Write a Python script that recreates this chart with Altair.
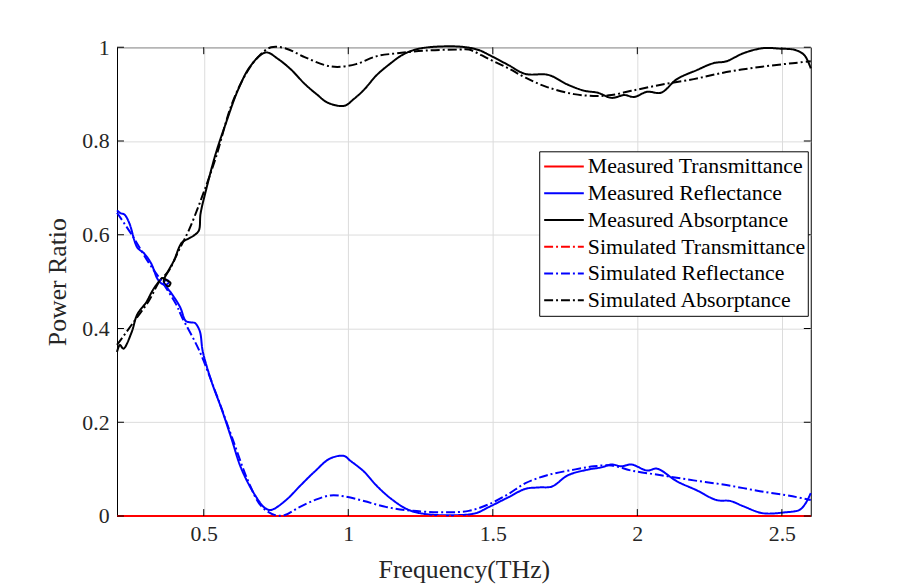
import altair as alt
import pandas as pd

# ---------------- data ----------------
series_names = [
    "Measured Transmittance", "Measured Reflectance", "Measured Absorptance",
    "Simulated Transmittance", "Simulated Reflectance", "Simulated Absorptance",
]
series_colors = ["#ff0000", "#0000ff", "#000000", "#ff0000", "#0000ff", "#000000"]

x_ticks = [0.5, 1.0, 1.5, 2.0, 2.5]
y_ticks = [0.0, 0.2, 0.4, 0.6, 0.8, 1.0]

# Measured transmittance (flat at zero)
mt_f = [0.2, 1.0, 1.8, 2.6]
mt_v = [0.0, 0.0, 0.0, 0.0]

# Measured reflectance
mr_f = [0.200, 0.212, 0.226, 0.243, 0.270, 0.294, 0.318, 0.339, 0.352, 0.365, 0.378,
        0.375, 0.362, 0.372, 0.387, 0.418, 0.438, 0.455, 0.469, 0.486, 0.497, 0.528,
        0.562, 0.596, 0.630, 0.678, 0.712, 0.733, 0.781, 0.836, 0.884, 0.938, 0.986,
        1.007, 1.054, 1.099, 1.154, 1.209, 1.270, 1.383, 1.441, 1.486, 1.554, 1.613,
        1.660, 1.705, 1.760, 1.829, 1.877, 1.911, 1.945, 1.979, 2.034, 2.068, 2.137,
        2.205, 2.274, 2.322, 2.366, 2.434, 2.513, 2.561, 2.582, 2.600]
mr_v = [0.652, 0.646, 0.643, 0.624, 0.573, 0.560, 0.539, 0.507, 0.497, 0.493, 0.497,
        0.503, 0.500, 0.488, 0.476, 0.446, 0.416, 0.413, 0.412, 0.395, 0.350, 0.285,
        0.228, 0.165, 0.101, 0.044, 0.017, 0.013, 0.032, 0.066, 0.095, 0.123, 0.128,
        0.118, 0.095, 0.064, 0.034, 0.013, 0.004, 0.002, 0.006, 0.019, 0.040, 0.058,
        0.061, 0.063, 0.087, 0.099, 0.104, 0.110, 0.106, 0.110, 0.097, 0.101, 0.074,
        0.055, 0.034, 0.032, 0.021, 0.006, 0.008, 0.013, 0.027, 0.049]

# Measured absorptance
ma_f = [0.200, 0.210, 0.222, 0.250, 0.270, 0.300, 0.325, 0.345, 0.358, 0.372, 0.385,
        0.378, 0.366, 0.362, 0.375, 0.397, 0.424, 0.448, 0.465, 0.483, 0.489, 0.507,
        0.541, 0.575, 0.620, 0.664, 0.715, 0.757, 0.801, 0.849, 0.894, 0.928, 0.986,
        1.020, 1.054, 1.099, 1.143, 1.191, 1.246, 1.339, 1.407, 1.452, 1.486, 1.554,
        1.613, 1.692, 1.760, 1.818, 1.863, 1.911, 1.955, 1.989, 2.034, 2.082, 2.137,
        2.205, 2.263, 2.308, 2.366, 2.434, 2.493, 2.547, 2.578, 2.600]
ma_v = [0.350, 0.365, 0.357, 0.391, 0.430, 0.455, 0.483, 0.500, 0.508, 0.503, 0.497,
        0.490, 0.494, 0.503, 0.520, 0.545, 0.583, 0.592, 0.598, 0.609, 0.645, 0.693,
        0.772, 0.835, 0.911, 0.962, 0.989, 0.975, 0.953, 0.922, 0.898, 0.882, 0.875,
        0.890, 0.909, 0.941, 0.964, 0.985, 0.997, 1.002, 1.000, 0.994, 0.984, 0.962,
        0.943, 0.941, 0.920, 0.907, 0.903, 0.892, 0.898, 0.894, 0.905, 0.903, 0.932,
        0.951, 0.966, 0.970, 0.987, 0.998, 0.997, 0.994, 0.983, 0.955]

# Simulated transmittance (flat at zero)
st_f = [0.2, 1.0, 1.8, 2.6]
st_v = [0.0, 0.0, 0.0, 0.0]

# Simulated reflectance
sr_f = [0.200, 0.253, 0.311, 0.352, 0.404, 0.424, 0.483, 0.541, 0.596, 0.654, 0.699,
        0.747, 0.781, 0.825, 0.884, 0.938, 0.986, 1.054, 1.133, 1.223, 1.339, 1.417,
        1.486, 1.554, 1.613, 1.688, 1.781, 1.849, 1.911, 1.979, 2.082, 2.195, 2.308,
        2.424, 2.537, 2.600]
sr_v = [0.647, 0.598, 0.539, 0.503, 0.452, 0.425, 0.355, 0.264, 0.171, 0.074, 0.021,
        0.002, 0.002, 0.017, 0.034, 0.044, 0.042, 0.032, 0.019, 0.011, 0.008, 0.011,
        0.025, 0.047, 0.070, 0.087, 0.099, 0.106, 0.108, 0.097, 0.087, 0.076, 0.066,
        0.053, 0.042, 0.034]

# Simulated absorptance
sa_f = [0.200, 0.253, 0.311, 0.346, 0.380, 0.414, 0.448, 0.493, 0.541, 0.596, 0.644,
        0.688, 0.733, 0.781, 0.849, 0.918, 0.962, 1.027, 1.099, 1.168, 1.270, 1.383,
        1.417, 1.486, 1.554, 1.613, 1.688, 1.781, 1.860, 1.911, 1.979, 2.082, 2.195,
        2.308, 2.424, 2.537, 2.600]
sa_v = [0.365, 0.410, 0.460, 0.500, 0.524, 0.567, 0.609, 0.679, 0.763, 0.877, 0.941,
        0.979, 1.000, 0.998, 0.979, 0.962, 0.958, 0.964, 0.981, 0.987, 0.993, 0.995,
        0.995, 0.975, 0.955, 0.935, 0.915, 0.900, 0.896, 0.898, 0.907, 0.920, 0.932,
        0.947, 0.958, 0.966, 0.970]

# ---------------- build table ----------------
rows = []
for name, fs, vs in [
    (series_names[0], mt_f, mt_v),
    (series_names[1], mr_f, mr_v),
    (series_names[2], ma_f, ma_v),
    (series_names[3], st_f, st_v),
    (series_names[4], sr_f, sr_v),
    (series_names[5], sa_f, sa_v),
]:
    for k, (f, v) in enumerate(zip(fs, vs)):
        rows.append({"f": f, "v": v, "series": name, "i": k})
df = pd.DataFrame(rows)

W, H = 700, 473
FONT = "Liberation Serif"
solid = [1, 0]
dashdot = [9, 3, 2, 3]

xscale = alt.Scale(domain=[0.2, 2.6], nice=False, zero=False)
yscale = alt.Scale(domain=[0, 1], nice=False)
x_axis = alt.Axis(values=x_ticks, format="~g", labelPadding=8, titlePadding=12)
y_axis = alt.Axis(values=y_ticks, format="~g", labelPadding=8, titlePadding=11)
x_enc = alt.X("f:Q", scale=xscale, title="Frequency(THz)", axis=x_axis)
y_enc = alt.Y("v:Q", scale=yscale, title="Power Ratio", axis=y_axis)

legend = alt.Legend(
    title=None, orient="none", legendX=426, legendY=105,
    symbolType="stroke", symbolSize=1600, symbolStrokeWidth=2, symbolOffset=2,
    labelFont=FONT, labelFontSize=22, labelColor="black", labelOffset=3,
    labelLimit=500, padding=2, rowPadding=0, clipHeight=26.5,
    strokeColor="black", fillColor="white",
)

lines = alt.Chart(df).mark_line(strokeWidth=2, clip=False, interpolate="catmull-rom").encode(
    x=x_enc,
    y=y_enc,
    color=alt.Color("series:N", sort=series_names,
                    scale=alt.Scale(domain=series_names, range=series_colors), legend=legend),
    strokeDash=alt.StrokeDash("series:N", sort=series_names,
                              scale=alt.Scale(domain=series_names,
                                              range=[solid, solid, solid, dashdot, dashdot, dashdot]),
                              legend=legend),
    order=alt.Order("i:Q"),
    detail="series:N",
)

xt = pd.DataFrame({"f": x_ticks})
yt = pd.DataFrame({"v": y_ticks})

bottom_ticks = alt.Chart(xt).mark_rule(color="black", strokeWidth=1).encode(
    x=x_enc, y=alt.value(H), y2=alt.value(H - 7))
top_ticks = alt.Chart(xt).mark_rule(color="black", strokeWidth=1).encode(
    x=x_enc, y=alt.value(0), y2=alt.value(7))
left_ticks = alt.Chart(yt).mark_rule(color="black", strokeWidth=1).encode(
    y=y_enc, x=alt.value(0), x2=alt.value(7))
right_ticks = alt.Chart(yt).mark_rule(color="black", strokeWidth=1).encode(
    y=y_enc, x=alt.value(W), x2=alt.value(W - 7))

chart = alt.layer(lines, bottom_ticks, top_ticks, left_ticks, right_ticks).properties(
    width=W, height=H,
    autosize=alt.AutoSizeParams(type="none"),
    padding={"left": 110, "top": 37, "right": 86, "bottom": 66},
    background="white",
).configure_view(
    stroke="black", strokeWidth=1,
).configure_axis(
    grid=True, gridColor="#dcdcdc", gridWidth=1,
    domainColor="black", domainWidth=1, ticks=False,
    labelFont=FONT, labelFontSize=22, labelColor="#262626",
    titleFont=FONT, titleFontSize=26, titleFontWeight="normal", titleColor="#262626",
)

chart.save("out.html", embed_options={"renderer": "svg", "actions": False})
